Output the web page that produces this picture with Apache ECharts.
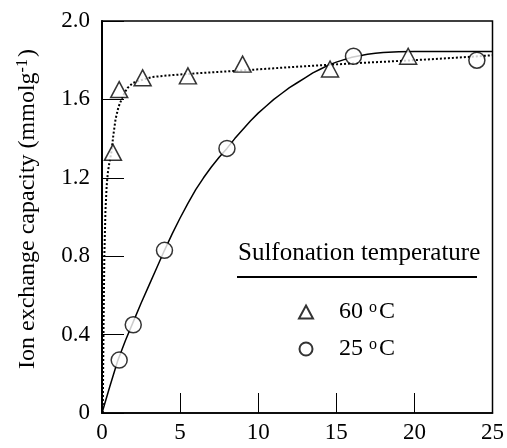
<!DOCTYPE html>
<html>
<head>
<meta charset="utf-8">
<script src="https://cdn.jsdelivr.net/npm/echarts@6/dist/echarts.min.js"></script>
<style>
  html, body { margin: 0; padding: 0; background: #fff; }
  #chart { width: 507px; height: 448px; }
</style>
</head>
<body>
<div id="chart"></div>
<script>
// Sulfonation time (h) for the measured samples and their ion exchange capacity
const time60 = [0.7, 1.1, 2.6, 5.5, 9.0, 14.6, 19.6];
const capacity60 = [1.33, 1.65, 1.71, 1.72, 1.78, 1.755, 1.82];
const time25 = [1.1, 2.0, 4.0, 8.0, 16.1, 24.0];
const capacity25 = [0.27, 0.45, 0.83, 1.35, 1.82, 1.80];

// Fitted trend curves
const fit60X = [0.05, 0.1, 0.15, 0.22, 0.3, 0.38, 0.48, 0.6, 0.73, 0.87, 1.05, 1.25, 1.45, 1.65, 2.0, 2.6, 3.2, 4.2, 5.5, 7.0, 8.7, 10.5, 12.5, 14.4, 17.0, 20, 22.5, 25];
const fit60Y = [0.0, 0.45, 0.8, 1.03, 1.16, 1.23, 1.28, 1.33, 1.42, 1.5, 1.56, 1.6, 1.635, 1.66, 1.685, 1.70, 1.714, 1.722, 1.73, 1.738, 1.746, 1.756, 1.767, 1.776, 1.788, 1.80, 1.812, 1.825];
const fit25X = [0, 0.5, 1, 1.5, 2, 2.5, 3, 3.5, 4, 4.5, 5, 5.5, 6, 6.5, 7, 7.5, 8, 8.5, 9, 9.5, 10, 10.5, 11, 11.5, 12, 12.5, 13, 13.5, 14, 14.5, 15, 15.5, 16, 16.5, 17, 17.5, 18, 19, 20, 22, 25];
const fit25Y = [0, 0.135, 0.265, 0.37, 0.465, 0.56, 0.65, 0.74, 0.83, 0.915, 0.995, 1.07, 1.14, 1.2, 1.255, 1.305, 1.35, 1.4, 1.445, 1.49, 1.53, 1.565, 1.6, 1.63, 1.66, 1.685, 1.71, 1.735, 1.755, 1.775, 1.79, 1.803, 1.815, 1.823, 1.83, 1.835, 1.839, 1.843, 1.845, 1.845, 1.845];

// Axis ranges and the legend heading
const xMin = 0, xMax = 25, xStep = 5;
const yMin = 0, yMax = 2.0, yStep = 0.4;
const legendTitle = 'Sulfonation temperature';
const name60 = '60 °C';
const name25 = '25 °C';

const zip = (xs, ys) => xs.map((x, i) => [x, ys[i]]);
const serif = 'Liberation Serif';

const chart = echarts.init(document.getElementById('chart'), null, { renderer: 'canvas' });

const markerStyle = { color: '#fff', borderColor: '#000', borderWidth: 1.5 };
const supStyle = { fontFamily: serif, fontSize: 16, verticalAlign: 'top', padding: [0, 2, 9, 0], color: '#000' };

chart.setOption({
  backgroundColor: '#fff',
  animation: false,
  grid: {
    left: 102, right: 9, top: 21, bottom: 35,
    show: true, borderColor: '#000', borderWidth: 1.5, backgroundColor: 'transparent'
  },
  xAxis: {
    type: 'value', min: xMin, max: xMax, interval: xStep,
    axisLine: { show: true, lineStyle: { color: '#000', width: 1.5 } },
    axisTick: { show: true, inside: true, length: 20, lineStyle: { color: '#000', width: 1 } },
    axisLabel: { color: '#000', fontFamily: serif, fontSize: 23, margin: 8 },
    splitLine: { show: false }
  },
  yAxis: {
    type: 'value', min: yMin, max: yMax, interval: yStep,
    name: 'Ion exchange capacity (mmolg{sup|-1})',
    nameLocation: 'middle', nameGap: 62,
    nameTextStyle: {
      color: '#000', fontFamily: serif, fontSize: 24,
      padding: [0, 0, 0, 16],
      rich: { sup: supStyle }
    },
    axisLine: { show: true, lineStyle: { color: '#000', width: 2 } },
    axisTick: { show: true, inside: true, length: 22, lineStyle: { color: '#000', width: 1 } },
    axisLabel: {
      color: '#000', fontFamily: serif, fontSize: 23, margin: 12,
      formatter: v => (v === 0 ? '0' : v.toFixed(1))
    },
    splitLine: { show: false }
  },
  legend: {
    data: [name60, name25],
    orient: 'vertical',
    left: 293, top: 295,
    itemWidth: 14, itemHeight: 13, itemGap: 13,
    formatter: n => n.replace('°C', '{sup|o}C'),
    textStyle: {
      color: '#000', fontFamily: serif, fontSize: 24, lineHeight: 24,
      padding: [0, 0, 0, 21],
      rich: { sup: supStyle }
    }
  },
  graphic: [
    {
      type: 'text', left: 238, top: 241,
      style: { text: legendTitle, fill: '#000', fontFamily: serif, fontSize: 25 }
    },
    {
      type: 'line',
      shape: { x1: 237, y1: 277, x2: 477, y2: 277 },
      style: { stroke: '#000', lineWidth: 2 }
    }
  ],
  series: [
    {
      name: 'fit60', type: 'line', data: zip(fit60X, fit60Y),
      smooth: false, showSymbol: false, symbol: 'none',
      lineStyle: { color: '#000', width: 2, type: [2, 2] }, z: 2, silent: true
    },
    {
      name: 'fit25', type: 'line', data: zip(fit25X, fit25Y),
      smooth: false, showSymbol: false, symbol: 'none',
      lineStyle: { color: '#000', width: 1.5 }, z: 2, silent: true
    },
    {
      name: name60, type: 'scatter', data: zip(time60, capacity60),
      symbol: 'triangle', symbolSize: [17, 16], itemStyle: markerStyle, z: 5
    },
    {
      name: name25, type: 'scatter', data: zip(time25, capacity25),
      symbol: 'circle', symbolSize: 16, itemStyle: markerStyle, z: 5
    }
  ]
});
</script>
</body>
</html>
